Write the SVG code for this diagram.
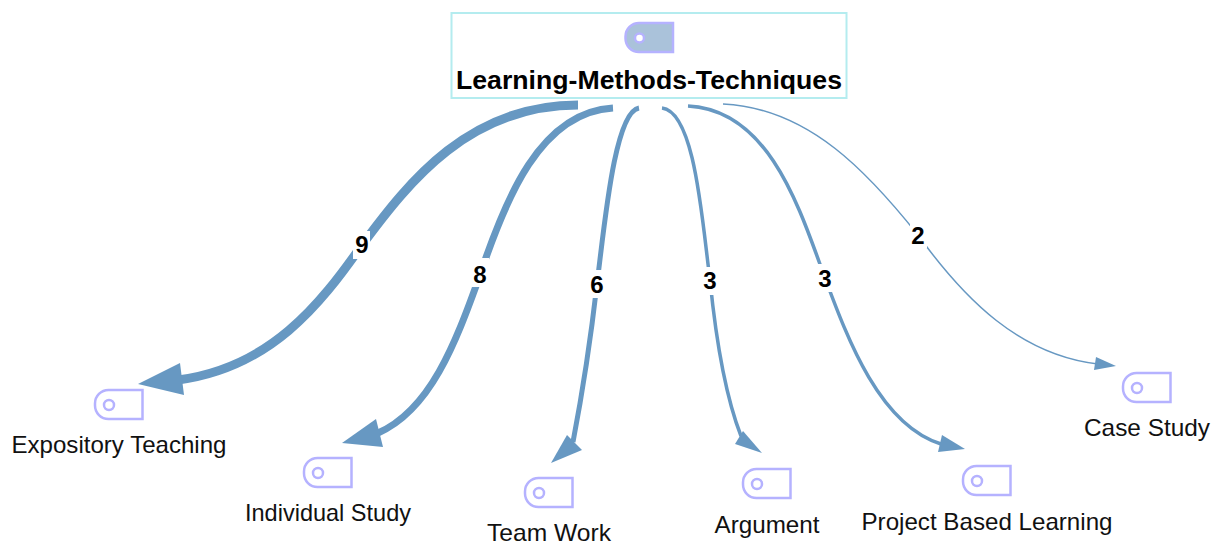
<svg xmlns="http://www.w3.org/2000/svg" width="1218" height="545" viewBox="0 0 1218 545">
<style>
.edge{fill:none;stroke:#6798c2}
.head{fill:#6798c2;stroke:none}
.bg{fill:#fff}
.elabel{font:bold 24px "Liberation Sans",Arial,sans-serif;fill:#000;text-anchor:middle}
.nlabel{font:24px "Liberation Sans",Arial,sans-serif;fill:#111;text-anchor:middle}
.icon{fill:none;stroke:#b5b2ff;stroke-width:2.5}
.dot{fill:none;stroke:#b5b2ff;stroke-width:2.5}
</style>
<defs>
<path id="tag" d="M13.5 0H47.5V29H13.5A13.5 13.5 0 0 1 0 15.5V13.5A13.5 13.5 0 0 1 13.5 0Z"/>
</defs>
<g id="connectors">
<g id="e1"><path class="edge" stroke-width="9" d="M578 105C470 105 410 180 362 245C320 305 270 368 178 380"/><polygon class="head" points="138,384 180,363 184,395"/><rect class="bg" x="353" y="231" width="17" height="28"/><text class="elabel" x="362" y="253">9</text></g>
<g id="e2"><path class="edge" stroke-width="7" d="M613 108C540 112 505 200 480 275C455 345 430 410 378 433"/><polygon class="head" points="342,443 376,419 383,447"/><rect class="bg" x="472" y="258" width="17" height="29"/><text class="elabel" x="480" y="283">8</text></g>
<g id="e3"><path class="edge" stroke-width="5" d="M639 108C615 112 605 220 597 284C590 345 582 395 573 442"/><polygon class="head" points="551,463 567,435 582,450"/><rect class="bg" x="589" y="270" width="16" height="28"/><text class="elabel" x="597" y="293">6</text></g>
<g id="e4"><path class="edge" stroke-width="3.5" d="M662 108C695 112 702 220 710 280C716 340 725 395 741 436"/><polygon class="head" points="762,453 743,431 735,444"/><rect class="bg" x="702" y="267" width="16" height="28"/><text class="elabel" x="710" y="289">3</text></g>
<g id="e5"><path class="edge" stroke-width="3.5" d="M688 106C770 110 800 210 825 278C848 340 880 425 941 444"/><polygon class="head" points="965,449 942,435 938,452"/><rect class="bg" x="817" y="264" width="16" height="28"/><text class="elabel" x="825" y="287">3</text></g>
<g id="e6"><path class="edge" stroke-width="1.5" d="M723 104C810 108 870 175 918 235C965 300 1020 355 1098 364"/><polygon class="head" points="1116,366 1096,357 1094,370"/><rect class="bg" x="910" y="221" width="17" height="27"/><text class="elabel" x="918" y="244">2</text></g>
</g>
<g id="root">
<rect x="451.500" y="13" width="395" height="85" fill="#fff" stroke="#b4ecef" stroke-width="2"/>
<use href="#tag" x="625.500" y="23" fill="#aac2da" stroke="#b5b2ff" stroke-width="2.500"/>
<circle cx="639.500" cy="38" r="4.500" fill="#fff" stroke="#b5b2ff" stroke-width="2.500"/>
<text x="649" y="88.500" text-anchor="middle" textLength="386" lengthAdjust="spacingAndGlyphs" style="font:bold 26.500px 'Liberation Sans',Arial,sans-serif;fill:#000">Learning-Methods-Techniques</text>
</g>
<g id="n1"><use href="#tag" class="icon" x="95" y="390"/><circle class="dot" cx="109" cy="405" r="5"/><text class="nlabel" x="119" y="453" textLength="215" lengthAdjust="spacingAndGlyphs">Expository Teaching</text></g>
<g id="n2"><use href="#tag" class="icon" x="304" y="458"/><circle class="dot" cx="318" cy="473" r="5"/><text class="nlabel" x="328" y="521" textLength="166" lengthAdjust="spacingAndGlyphs">Individual Study</text></g>
<g id="n3"><use href="#tag" class="icon" x="525" y="478"/><circle class="dot" cx="539" cy="493" r="5"/><text class="nlabel" x="549" y="541" textLength="124" lengthAdjust="spacingAndGlyphs">Team Work</text></g>
<g id="n4"><use href="#tag" class="icon" x="743" y="469"/><circle class="dot" cx="757" cy="484" r="5"/><text class="nlabel" x="767" y="533" textLength="105" lengthAdjust="spacingAndGlyphs">Argument</text></g>
<g id="n5"><use href="#tag" class="icon" x="963" y="466"/><circle class="dot" cx="977" cy="481" r="5"/><text class="nlabel" x="987" y="530" textLength="251" lengthAdjust="spacingAndGlyphs">Project Based Learning</text></g>
<g id="n6"><use href="#tag" class="icon" x="1123" y="373"/><circle class="dot" cx="1137" cy="388" r="5"/><text class="nlabel" x="1147" y="436" textLength="126" lengthAdjust="spacingAndGlyphs">Case Study</text></g>
</svg>
